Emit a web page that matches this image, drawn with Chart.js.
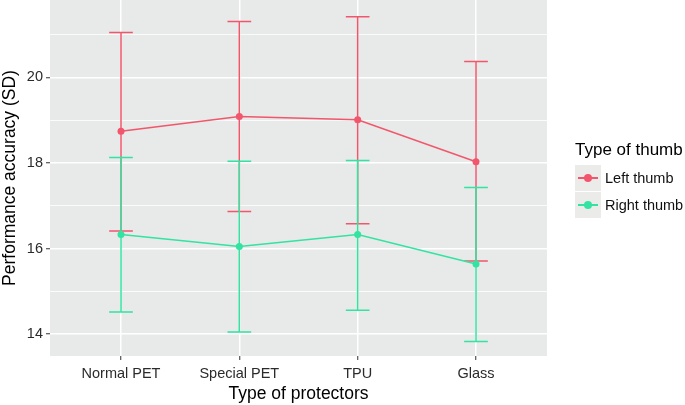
<!DOCTYPE html>
<html>
<head>
<meta charset="utf-8">
<script src="https://cdn.jsdelivr.net/npm/chart.js@4/dist/chart.umd.min.js"></script>
<style>
  html, body { margin: 0; padding: 0; background: #fff; }
  #wrap { position: relative; width: 685px; height: 405px; font-family: "Liberation Sans", Arial, sans-serif; }
  #legend { position: absolute; left: 575px; top: 140px; }
  #legend .title { font-size: 17px; color: #000; margin-bottom: 4px; white-space: nowrap; }
  .row { display: flex; align-items: center; height: 27px; }
  .key { position: relative; width: 26px; height: 26px; background: #ebecea; margin-right: 4px; }
  .key .ln { position: absolute; left: 3px; right: 3px; top: 12px; height: 2px; }
  .key .pt { position: absolute; left: 9px; top: 9px; width: 8px; height: 8px; border-radius: 50%; }
  .row span { font-size: 14.5px; color: #111; white-space: nowrap; }
</style>
</head>
<body>
<div id="wrap">
  <canvas id="chart" width="685" height="405"></canvas>
  <div id="legend"></div>
</div>
<script>
// Categories and values
const protectors = ['Normal PET', 'Special PET', 'TPU', 'Glass'];
const seriesNames = ['Left thumb', 'Right thumb'];
const seriesColors = ['#f2566c', '#33e3a2'];

const leftMean = [18.74, 19.09, 19.01, 18.03];
const leftUpper = [21.05, 21.31, 21.42, 20.37];
const leftLower = [16.41, 16.87, 16.58, 15.71];

const rightMean = [16.33, 16.05, 16.33, 15.64];
const rightUpper = [18.13, 18.04, 18.06, 17.43];
const rightLower = [14.52, 14.05, 14.56, 13.83];

const yTicks = [14, 15, 16, 17, 18, 19, 20, 21];

const toPoints = arr => arr.map((v, i) => ({ x: i + 1, y: v }));

// grey panel behind the grid
const panelBg = {
    id: 'panelBg',
    beforeDraw(chart) {
        const { ctx, chartArea: a } = chart;
        ctx.save();
        ctx.fillStyle = '#e7eae8';
        ctx.fillRect(a.left, a.top, a.right - a.left, a.bottom - a.top);
        ctx.restore();
    }
};

// error bars with caps
const errorBars = {
    id: 'errorBars',
    beforeDatasetsDraw(chart) {
        const { ctx, scales } = chart;
        const sets = [
            { up: leftUpper, lo: leftLower, color: seriesColors[0] },
            { up: rightUpper, lo: rightLower, color: seriesColors[1] }
        ];
        ctx.save();
        ctx.lineWidth = 1.5;
        sets.forEach(s => {
            ctx.strokeStyle = s.color;
            s.up.forEach((u, i) => {
                const x = scales.x.getPixelForValue(i + 1);
                const yu = scales.y.getPixelForValue(u);
                const yl = scales.y.getPixelForValue(s.lo[i]);
                const half = scales.x.getPixelForValue(1.1) - scales.x.getPixelForValue(1);
                ctx.beginPath();
                ctx.moveTo(x, yu); ctx.lineTo(x, yl);
                ctx.moveTo(x - half, yu); ctx.lineTo(x + half, yu);
                ctx.moveTo(x - half, yl); ctx.lineTo(x + half, yl);
                ctx.stroke();
            });
        });
        ctx.restore();
    }
};

new Chart(document.getElementById('chart'), {
    type: 'line',
    data: {
        datasets: [
            {
                label: seriesNames[1],
                data: toPoints(rightMean),
                borderColor: seriesColors[1],
                backgroundColor: seriesColors[1],
                borderWidth: 1.5,
                pointRadius: 3.5,
                pointBorderWidth: 0,
                order: 1
            },
            {
                label: seriesNames[0],
                data: toPoints(leftMean),
                borderColor: seriesColors[0],
                backgroundColor: seriesColors[0],
                borderWidth: 1.5,
                pointRadius: 3.5,
                pointBorderWidth: 0,
                order: 2
            }
        ]
    },
    options: {
        responsive: false,
        animation: false,
        layout: { autoPadding: false, padding: { top: 0, right: 138, bottom: 0, left: 0 } },
        plugins: {
            legend: { display: false },
            tooltip: { enabled: false }
        },
        scales: {
            x: {
                type: 'linear',
                min: 0.4,
                max: 4.6,
                afterBuildTicks: s => { s.ticks = protectors.map((p, i) => ({ value: i + 1 })); },
                afterFit: s => { s.height = 49; s.paddingLeft = 0; s.paddingRight = 0; },
                border: { display: false },
                grid: { color: '#ffffff', lineWidth: 1.5, tickColor: '#333333', tickLength: 4, tickWidth: 1 },
                ticks: {
                    callback: v => protectors[v - 1],
                    color: '#2b2b2b',
                    font: { family: 'Liberation Sans', size: 14.5 },
                    padding: 5,
                    maxRotation: 0
                },
                title: {
                    display: true,
                    text: 'Type of protectors',
                    color: '#000',
                    font: { family: 'Liberation Sans', size: 17.5 },
                    padding: { top: 0, bottom: 0 }
                }
            },
            y: {
                type: 'linear',
                min: 13.49,
                max: 21.81,
                afterBuildTicks: s => { s.ticks = yTicks.map(v => ({ value: v })); },
                afterFit: s => { s.width = 50; s.paddingTop = 0; s.paddingBottom = 0; },
                border: { display: false },
                grid: {
                    color: '#ffffff',
                    lineWidth: c => (c.tick && c.tick.value % 2 === 0 ? 1.5 : 0.8),
                    tickColor: c => (c.tick && c.tick.value % 2 === 0 ? '#333333' : 'rgba(0,0,0,0)'),
                    tickLength: 4,
                    tickWidth: 1
                },
                ticks: {
                    callback: v => (v % 2 === 0 ? String(v) : ''),
                    color: '#2b2b2b',
                    font: { family: 'Liberation Sans', size: 14.5 },
                    padding: 3
                },
                title: {
                    display: true,
                    text: 'Performance accuracy (SD)',
                    color: '#000',
                    font: { family: 'Liberation Sans', size: 17.5 },
                    padding: { top: 0, bottom: 0 }
                }
            }
        }
    },
    plugins: [panelBg, errorBars]
});

// legend on the right, ggplot style
const legend = document.getElementById('legend');
legend.innerHTML = '<div class="title">Type of thumb</div>' +
    seriesNames.map((n, i) =>
        '<div class="row"><div class="key"><div class="ln" style="background:' + seriesColors[i] +
        '"></div><div class="pt" style="background:' + seriesColors[i] + '"></div></div><span>' + n + '</span></div>'
    ).join('');
</script>
</body>
</html>
